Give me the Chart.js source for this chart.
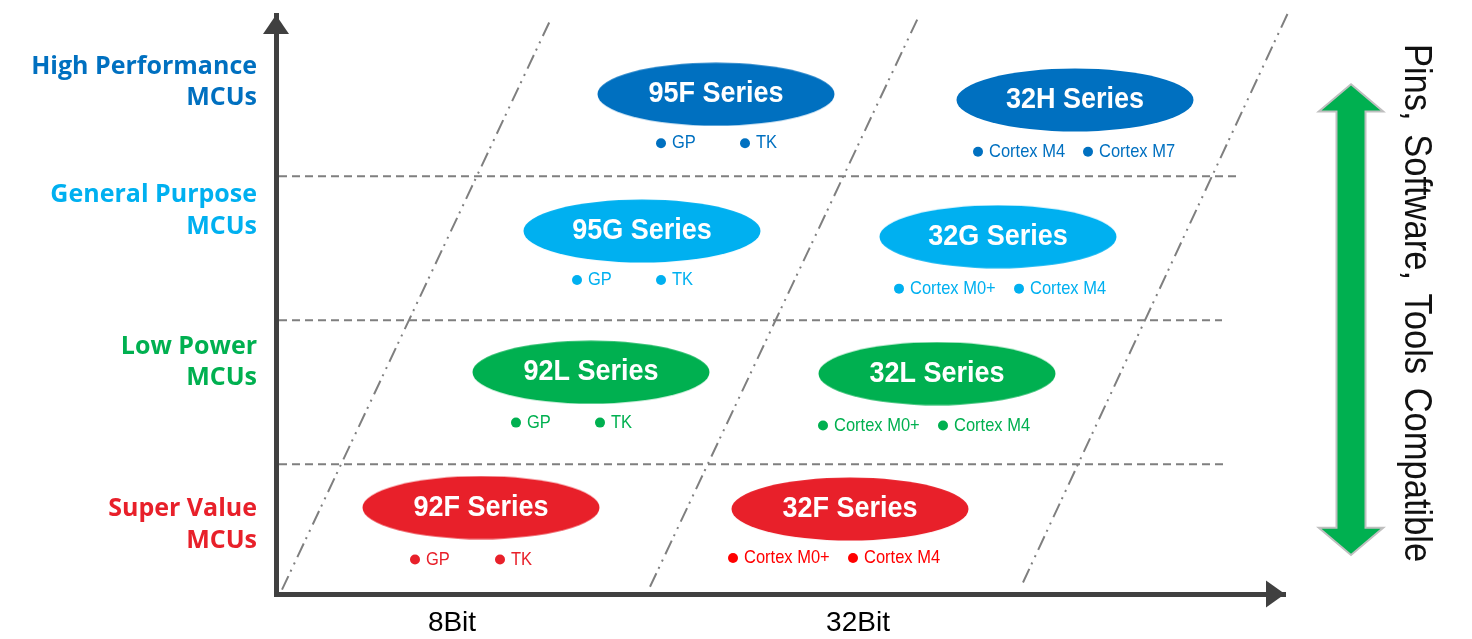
<!DOCTYPE html>
<html>
<head>
<meta charset="utf-8">
<script src="https://cdn.jsdelivr.net/npm/chart.js@4.4.1/dist/chart.umd.min.js"></script>
<style>
  html, body { margin: 0; padding: 0; background: #fff; }
</style>
</head>
<body>
<canvas id="mcuChart" width="1472" height="639"></canvas>
<script>
// ========================== DATA ==========================
const tierNames = [["Super Value", "MCUs"], ["Low Power", "MCUs"], ["General Purpose", "MCUs"], ["High Performance", "MCUs"]];
const tierNameY = [0.58, 1.71, 2.76, 3.65];
const tierBounds = [1, 2, 3];
const tierBoundEnd = [9.50, 9.46, 9.62];

const bitNames = ["8Bit", "32Bit"];
const bitNameX = [1.76, 5.82];

// dash-dot separators (bottom point -> top point)
const splitFrom = [[0.06, 0.13], [3.74, 0.15], [7.47, 0.18]];
const splitTo = [[2.74, 4.08], [6.42, 4.10], [10.13, 4.15]];

const seriesNames = ["92F Series", "32F Series", "92L Series", "32L Series", "95G Series", "32G Series", "95F Series", "32H Series"];
const seriesTier = [0, 0, 1, 1, 2, 2, 3, 3];
const seriesX = [2.05, 5.74, 3.15, 6.61, 3.66, 7.22, 4.40, 7.99];
const seriesY = [0.70, 0.69, 1.64, 1.63, 2.62, 2.58, 3.57, 3.53];

const coreNames = [
  ["GP", "TK"], ["Cortex M0+", "Cortex M4"],
  ["GP", "TK"], ["Cortex M0+", "Cortex M4"],
  ["GP", "TK"], ["Cortex M0+", "Cortex M4"],
  ["GP", "TK"], ["Cortex M4", "Cortex M7"]
];
const coreX = [[1.39, 2.24], [4.57, 5.77], [2.40, 3.24], [5.47, 6.67], [3.01, 3.85], [6.23, 7.43], [3.85, 4.69], [7.02, 8.12]];
const coreY = [0.34, 0.35, 1.29, 1.27, 2.28, 2.22, 3.23, 3.17];

const compatName = "Pins, Software, Tools Compatible";
const compatX = 10.75;
const compatTop = 3.63;
const compatBottom = 0.38;
const compatTextX = 11.39;
const compatTextY = 2.12;

// ========================== STYLE ==========================
const tierColors = ["#E8202A", "#00B050", "#00B0F0", "#0070C0"];
const coreColors = ["#E8202A", "#FF0000", "#00B050", "#00B050", "#00B0F0", "#00B0F0", "#0070C0", "#0070C0"];
const AXIS = "#404040";
const GUIDE = "#7F7F7F";
const SANS = "'Liberation Sans', Arial, sans-serif";

// ========================== HELPERS ==========================
function ellipseImage(color){
  const c = document.createElement("canvas");
  c.width = 238;
  c.height = 64;
  const g = c.getContext("2d");
  g.fillStyle = color;
  g.beginPath();
  g.ellipse(119, 32, 118.5, 31.5, 0, 0, Math.PI * 2);
  g.fill();
  return c;
}

function drawText(ctx, text, x, y, font, color, align, stretch){
  ctx.save();
  ctx.translate(x, y);
  ctx.scale(1, stretch);
  ctx.font = font;
  ctx.fillStyle = color;
  ctx.textAlign = align;
  ctx.textBaseline = "middle";
  ctx.fillText(text, 0, 0);
  ctx.restore();
}

const ellipses = tierColors.map(ellipseImage);

// ========================== DATASETS ==========================
const datasets = [];

datasets.push({
  label: "series",
  data: seriesX.map((x, i) => ({ x: x, y: seriesY[i] })),
  pointStyle: seriesTier.map(t => ellipses[t]),
  pointRadius: 4
});

datasets.push({
  label: "cores",
  data: coreX.flatMap((xs, i) => xs.map(x => ({ x: x, y: coreY[i] }))),
  pointStyle: "circle",
  pointRadius: 5,
  pointBorderWidth: 0,
  pointBackgroundColor: coreX.flatMap((xs, i) => xs.map(() => coreColors[i]))
});

tierBounds.forEach((y, i) => {
  datasets.push({
    label: "tier" + i,
    data: [{ x: 0.03, y: y }, { x: tierBoundEnd[i], y: y }],
    showLine: true,
    borderColor: GUIDE,
    borderWidth: 2,
    borderDash: [8, 5],
    pointRadius: 0
  });
});

splitFrom.forEach((p, i) => {
  datasets.push({
    label: "split" + i,
    data: [{ x: p[0], y: p[1] }, { x: splitTo[i][0], y: splitTo[i][1] }],
    showLine: true,
    borderColor: GUIDE,
    borderWidth: 2,
    borderDash: [15, 5, 2, 6, 2, 6],
    pointRadius: 0,
    clip: false
  });
});

// ========================== PLUGINS ==========================
const textPlugin = {
  id: "mcuText",
  afterDatasetsDraw(chart){
    const ctx = chart.ctx;

    chart.getDatasetMeta(0).data.forEach((el, i) => {
      drawText(ctx, seriesNames[i], el.x, el.y, "bold 27px " + SANS, "#fff", "center", 1.08);
    });

    let k = 0;
    const dots = chart.getDatasetMeta(1).data;
    coreNames.forEach((names, i) => {
      names.forEach(n => {
        const el = dots[k++];
        drawText(ctx, n, el.x + 11, el.y, "16.5px " + SANS, coreColors[i], "left", 1.12);
      });
    });
  },
  afterDraw(chart){
    const ctx = chart.ctx;
    const xs = chart.scales.x;
    const ys = chart.scales.y;
    const a = chart.chartArea;

    // axis arrow heads
    ctx.save();
    ctx.fillStyle = AXIS;
    const ax = xs.getPixelForValue(0);
    ctx.beginPath();
    ctx.moveTo(ax, a.top);
    ctx.lineTo(ax + 13, a.top + 19);
    ctx.lineTo(ax - 13, a.top + 19);
    ctx.closePath();
    ctx.fill();
    const ay = ys.getPixelForValue(ys.min);
    ctx.beginPath();
    ctx.moveTo(a.right, ay);
    ctx.lineTo(a.right - 19, ay - 13.5);
    ctx.lineTo(a.right - 19, ay + 13.5);
    ctx.closePath();
    ctx.fill();
    ctx.restore();

    // compatibility double arrow
    const cx = xs.getPixelForValue(compatX);
    const t = ys.getPixelForValue(compatTop);
    const b = ys.getPixelForValue(compatBottom);
    const hw = 29.5, sw = 13.5, hh = 25;
    ctx.save();
    ctx.beginPath();
    ctx.moveTo(cx, t);
    ctx.lineTo(cx + hw, t + hh);
    ctx.lineTo(cx + sw, t + hh);
    ctx.lineTo(cx + sw, b - hh);
    ctx.lineTo(cx + hw, b - hh);
    ctx.lineTo(cx, b);
    ctx.lineTo(cx - hw, b - hh);
    ctx.lineTo(cx - sw, b - hh);
    ctx.lineTo(cx - sw, t + hh);
    ctx.lineTo(cx - hw, t + hh);
    ctx.closePath();
    ctx.lineJoin = "miter";
    ctx.lineWidth = 4;
    ctx.strokeStyle = "#BFBFBF";
    ctx.stroke();
    ctx.fillStyle = "#00B050";
    ctx.fill();
    ctx.restore();

    // rotated caption
    ctx.save();
    ctx.translate(xs.getPixelForValue(compatTextX), ys.getPixelForValue(compatTextY));
    ctx.rotate(Math.PI / 2);
    ctx.wordSpacing = "4px";
    drawText(ctx, compatName, 0, 0, "34.5px " + SANS, "#111", "center", 1.1);
    ctx.restore();
  }
};

// ========================== CHART ==========================
function initChart(){
  const ctx = document.getElementById("mcuChart").getContext("2d");
  new Chart(ctx, {
    type: "scatter",
    data: { datasets: datasets },
    options: {
      responsive: false,
      animation: false,
      events: [],
      layout: { padding: { top: 15, right: 187, left: 0, bottom: 0 } },
      plugins: { legend: { display: false }, tooltip: { enabled: false } },
      scales: {
        x: {
          type: "linear",
          min: 0,
          max: 10.09,
          afterFit: s => { s.height = 45; s.paddingLeft = 0; s.paddingRight = 0; s.paddingTop = 0; s.paddingBottom = 0; },
          afterBuildTicks: s => { s.ticks = bitNameX.map(v => ({ value: v })); },
          ticks: {
            callback: (v, i) => bitNames[i],
            color: "#000",
            font: { family: SANS, size: 28, lineHeight: 1.2 },
            padding: 12,
            autoSkip: false,
            maxRotation: 0
          },
          grid: { display: false, drawTicks: false },
          border: { display: true, color: AXIS, width: 5 }
        },
        y: {
          type: "linear",
          min: 0.1,
          max: 4.12,
          afterFit: s => { s.width = 276; s.paddingTop = 0; s.paddingBottom = 0; s.paddingLeft = 0; s.paddingRight = 0; },
          afterBuildTicks: s => { s.ticks = tierNameY.map(v => ({ value: v })); },
          ticks: {
            callback: (v, i) => tierNames[i],
            color: c => tierColors[c.index],
            font: { family: "'Open Sans', sans-serif", size: 25, weight: "bold", lineHeight: 1.25 },
            padding: 19,
            autoSkip: false
          },
          grid: { display: false, drawTicks: false },
          border: { display: true, color: AXIS, width: 5 }
        }
      }
    },
    plugins: [textPlugin]
  });
}

window.onload = initChart;
</script>
</body>
</html>
